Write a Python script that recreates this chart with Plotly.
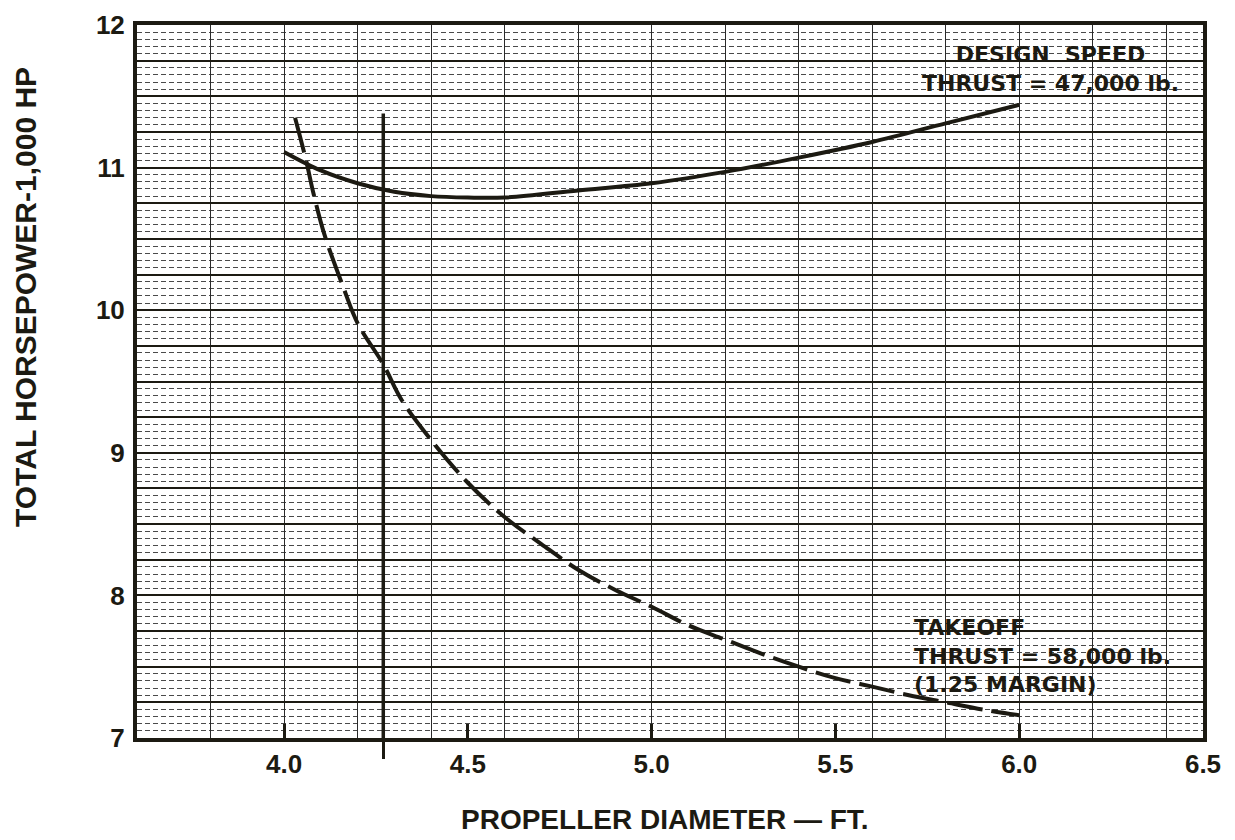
import plotly.graph_objects as go

# ---- data ----
design_x = [4.0, 4.1, 4.2, 4.3, 4.4, 4.5, 4.6, 4.8, 5.0, 5.2, 5.4, 5.6, 5.8, 6.0]
design_y = [11.11, 10.98, 10.89, 10.83, 10.80, 10.79, 10.79, 10.84, 10.89, 10.97, 11.07, 11.18, 11.31, 11.44]

takeoff_x = [4.03, 4.06, 4.08, 4.11, 4.16, 4.20, 4.27, 4.32, 4.40, 4.50, 4.60, 4.70, 4.80,
             4.90, 5.00, 5.10, 5.20, 5.30, 5.40, 5.50, 5.60, 5.70, 5.80, 5.90, 6.00]
takeoff_y = [11.35, 11.05, 10.82, 10.53, 10.17, 9.91, 9.62, 9.37, 9.09, 8.79, 8.55, 8.36, 8.18,
             8.04, 7.92, 7.79, 7.69, 7.59, 7.50, 7.42, 7.36, 7.30, 7.25, 7.20, 7.16]

selected_diameter = 4.27
selected_top = 11.38

x_ticks = [4.0, 4.5, 5.0, 5.5, 6.0, 6.5]
x_ticktext = ["4.0", "4.5", "5.0", "5.5", "6.0", "6.5"]
y_ticks = [7, 8, 9, 10, 11, 12]
y_ticktext = ["7", "8", "9", "10", "11", "12"]

design_label = ["DESIGN  SPEED", "THRUST = 47,000 lb."]
takeoff_label = ["TAKEOFF", "THRUST = 58,000 lb.", "(1.25 MARGIN)"]

x_range = [3.6, 6.5]
y_range = [7, 12]

INK = "#1c1a12"
FONT = "Liberation Sans"
LABEL_FONT = "DejaVu Sans"

# the page adds an 8px body margin around the figure
OFF = 8
W, H = 1227, 832
ML, MR, MT, MB = 129, 32, 17, 102
PW, PH = W - ML - MR, H - MT - MB


def px_x(p):
    """page pixel -> paper x"""
    return (p - OFF - ML) / PW


def px_y(p):
    """page pixel -> paper y"""
    return 1 - (p - OFF - MT) / PH


fig = go.Figure()

# invisible trace anchoring the base (grid) subplot
fig.add_trace(go.Scatter(x=x_range, y=y_range, mode="markers", marker=dict(opacity=0),
                         xaxis="x", yaxis="y", showlegend=False, hoverinfo="skip"))

# data traces on the labelled overlay axes
fig.add_trace(go.Scatter(
    x=[selected_diameter, selected_diameter], y=[y_range[0], selected_top],
    mode="lines", line=dict(color=INK, width=3.5),
    xaxis="x2", yaxis="y2", showlegend=False, hoverinfo="skip"))
fig.add_trace(go.Scatter(
    x=design_x, y=design_y, mode="lines", line=dict(color=INK, width=4, shape="spline"),
    xaxis="x2", yaxis="y2", showlegend=False, name="Design speed"))
fig.add_trace(go.Scatter(
    x=takeoff_x, y=takeoff_y, mode="lines",
    line=dict(color=INK, width=4, shape="spline", dash="36px,9px"),
    xaxis="x2", yaxis="y2", showlegend=False, name="Takeoff"))

# marker below the axis for the chosen diameter
fig.add_trace(go.Scatter(x=[selected_diameter], y=[y_range[0]], mode="markers",
                         marker=dict(opacity=0), xaxis="x3", yaxis="y",
                         showlegend=False, hoverinfo="skip"))

tick_font = dict(family=FONT, size=26, color=INK, weight="bold")

fig.update_layout(
    width=W, height=H,
    margin=dict(l=ML, r=MR, t=MT, b=MB, autoexpand=False),
    paper_bgcolor="white", plot_bgcolor="white",
    showlegend=False,
    # base axes: grid only
    xaxis=dict(range=x_range, tick0=3.6, dtick=0.2, showgrid=True,
               gridcolor="#2a2a2a", gridwidth=1.3, showticklabels=False,
               ticks="", showline=False, zeroline=False),
    yaxis=dict(range=y_range, tick0=7, dtick=0.25, showgrid=True,
               gridcolor=INK, gridwidth=2.2, showticklabels=False,
               ticks="", showline=False, zeroline=False,
               minor=dict(dtick=0.05, showgrid=True, gridcolor="#4a4a4a",
                          gridwidth=1, griddash="5px,3px")),
    # overlay axes: labels, frame, data
    xaxis2=dict(range=x_range, overlaying="x", side="bottom", anchor="y2",
                tickvals=x_ticks, ticktext=x_ticktext, tickfont=tick_font,
                ticks="inside", ticklen=14, tickwidth=2.5, tickcolor=INK,
                ticklabelstandoff=0,
                showgrid=False, zeroline=False,
                showline=True, linecolor=INK, linewidth=4, mirror=True),
    yaxis2=dict(range=y_range, overlaying="y", side="left", anchor="x2",
                tickvals=y_ticks, ticktext=y_ticktext, tickfont=tick_font,
                ticks="", ticklabelstandoff=3, showgrid=False, zeroline=False,
                showline=True, linecolor=INK, linewidth=4, mirror=True),
    xaxis3=dict(range=x_range, overlaying="x", side="bottom", anchor="y",
                tickvals=[selected_diameter], ticks="outside", ticklen=20,
                tickwidth=3, tickcolor=INK, showticklabels=False,
                showgrid=False, zeroline=False, showline=False),
)

ann_font = dict(family=LABEL_FONT, size=22, color=INK, weight="bold")

fig.add_annotation(text="<br>".join(design_label), xref="paper", yref="paper",
                   x=px_x(1050), y=px_y(69), showarrow=False, font=ann_font,
                   align="center", xanchor="center", yanchor="middle")

fig.add_annotation(text="<br>".join(takeoff_label), xref="paper", yref="paper",
                   x=px_x(912), y=px_y(656), showarrow=False, font=ann_font,
                   align="left", xanchor="left", yanchor="middle")

# axis titles
fig.add_annotation(text="PROPELLER DIAMETER — FT.", xref="paper", yref="paper",
                   x=px_x(665), y=px_y(819), showarrow=False,
                   font=dict(family=FONT, size=28, color=INK, weight="bold"),
                   xanchor="center", yanchor="middle")
fig.add_annotation(text="TOTAL HORSEPOWER-1,000 HP", xref="paper", yref="paper",
                   x=px_x(25), y=px_y(297), textangle=-90, showarrow=False,
                   font=dict(family=FONT, size=30, color=INK, weight="bold"),
                   xanchor="center", yanchor="middle")

fig.write_html("out.html")
